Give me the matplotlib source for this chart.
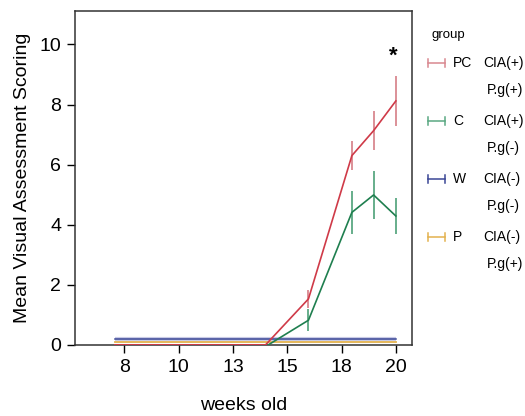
import matplotlib
matplotlib.use('Agg')
import matplotlib.pyplot as plt
from matplotlib.lines import Line2D

plt.rcParams['font.family'] = ['Liberation Sans', 'DejaVu Sans']

# x axis is drawn as equally spaced tick slots
tick_labels = ['8', '10', '13', '15', '18', '20']

# PC / C: measured points (x in tick-slot units)
pc_x = [-0.18, 2.6, 3.39, 4.19, 4.59, 5.0]
pc_y = [0.0, 0.0, 1.53, 6.3, 7.13, 8.12]
pc_err = [0.0, 0.0, 0.3, 0.47, 0.64, 0.83]

c_x = [-0.18, 2.65, 3.39, 4.19, 4.59, 5.0]
c_y = [0.0, 0.0, 0.82, 4.41, 4.99, 4.29]
c_err = [0.0, 0.0, 0.36, 0.72, 0.79, 0.6]

w_x = [-0.18, 5.0]
w_y = [0.18, 0.18]
p_x = [-0.18, 5.0]
p_y = [0.09, 0.09]

groups = [('PC', 'CIA(+)', 'P.g(+)'),
          ('C', 'CIA(+)', 'P.g(-)'),
          ('W', 'CIA(-)', 'P.g(-)'),
          ('P', 'CIA(-)', 'P.g(+)')]

red = '#cf3a48'
red_e = '#d98890'
green = '#1f7f4f'
green_e = '#5aa882'
blue = '#3a4796'
orange = '#e3b24e'

fig = plt.figure(figsize=(5.25, 4.16), dpi=100)
ax = fig.add_axes([0.143, 0.171, 0.642, 0.803])

ax.plot(w_x, w_y, color='#c9cbe6', lw=3, solid_capstyle='butt', zorder=1)
ax.plot(w_x, w_y, color=blue, lw=1.1, zorder=2)
ax.plot(p_x, p_y, color=orange, lw=1.3, zorder=2)
ax.errorbar(c_x, c_y, yerr=c_err, color=green, ecolor=green_e, lw=1.2,
            elinewidth=1.3, capsize=0, zorder=3)
ax.errorbar(pc_x, pc_y, yerr=pc_err, color=red, ecolor=red_e, lw=1.2,
            elinewidth=1.3, capsize=0, zorder=4)

ax.text(pc_x[-1] - 0.05, 9.6, '*', fontsize=16, ha='center', va='center',
        fontweight='bold')

ax.set_xlim(-0.91, 5.3)
ax.set_ylim(0, 11.12)
ax.set_xticks(range(len(tick_labels)))
ax.set_xticklabels(tick_labels)
ax.set_yticks([0, 2, 4, 6, 8, 10])
ax.tick_params(labelsize=14, length=6, width=1, direction='out', pad=4)
for s in ax.spines.values():
    s.set_linewidth(1.1)
    s.set_color('#333333')

ax.set_ylabel('Mean Visual Assessment Scoring', fontsize=14, labelpad=6)
ax.set_xlabel('weeks old', fontsize=14, labelpad=15)

# legend drawn by hand at the right of the axes
W, H = 525.0, 416.0
fig.text(431 / W, 1 - 35 / H, 'group', fontsize=9.5, va='center', ha='left')
cols = [red_e, green_e, blue, orange]
for i, (name, cia, pg) in enumerate(groups):
    yy = 1 - (63 + 58 * i) / H
    x0, x1 = 428 / W, 445 / W
    fig.add_artist(Line2D([x0, x1], [yy, yy], color=cols[i], lw=1.1,
                          transform=fig.transFigure))
    for xe in (x0, x1):
        fig.add_artist(Line2D([xe, xe], [yy - 4 / H, yy + 4 / H], color=cols[i],
                              lw=1.1, transform=fig.transFigure))
    fig.text(453 / W, yy, name, fontsize=10, va='center', ha='left')
    fig.text(483 / W, yy, cia, fontsize=10, va='center', ha='left')
    fig.text(487 / W, yy - 27 / H, pg, fontsize=10, va='center', ha='left')

fig.savefig('out.png', dpi=100)
